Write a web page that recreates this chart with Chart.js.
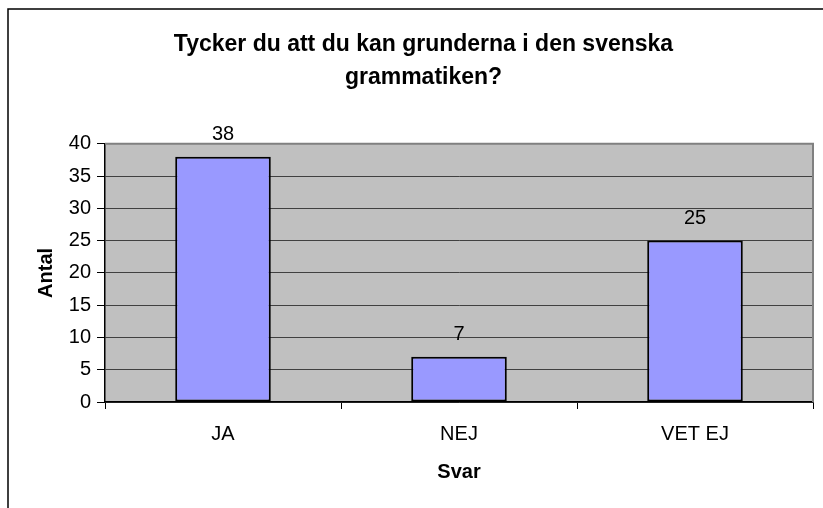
<!DOCTYPE html>
<html>
<head>
<meta charset="utf-8">
<script src="https://cdn.jsdelivr.net/npm/chart.js@4.4.1/dist/chart.umd.min.js"></script>
<style>
html,body{margin:0;padding:0;background:#fff;}
#wrap{width:823px;height:508px;position:relative;}
</style>
</head>
<body>
<div id="wrap"><canvas id="c" width="823" height="508"></canvas></div>
<script>
const categories = ['JA', 'NEJ', 'VET EJ'];
const antal = [38, 7, 25];
const yTicks = [0, 5, 10, 15, 20, 25, 30, 35, 40];
const titleLines = ['Tycker du att du kan grunderna i den svenska', 'grammatiken?'];
const xTitle = 'Svar';
const yTitle = 'Antal';

const FONT = "'Liberation Sans', Arial, sans-serif";

const framePlugin = {
  id: 'frame',
  beforeDraw(chart) {
    const ctx = chart.ctx;
    const a = chart.chartArea;
    ctx.save();
    ctx.fillStyle = '#ffffff';
    ctx.fillRect(0, 0, chart.width, chart.height);
    ctx.strokeStyle = '#000000';
    ctx.lineWidth = 1.5;
    ctx.beginPath();
    ctx.moveTo(8, chart.height);
    ctx.lineTo(8, 9);
    ctx.lineTo(chart.width, 9);
    ctx.stroke();
    ctx.fillStyle = '#c0c0c0';
    ctx.fillRect(a.left, a.top, a.right - a.left, a.bottom - a.top);
    ctx.restore();
  },
  afterDraw(chart) {
    const ctx = chart.ctx;
    const a = chart.chartArea;
    ctx.save();
    ctx.strokeStyle = '#808080';
    ctx.lineWidth = 2;
    ctx.beginPath();
    ctx.moveTo(a.left, a.top);
    ctx.lineTo(a.right, a.top);
    ctx.lineTo(a.right, a.bottom);
    ctx.stroke();
    ctx.restore();
  }
};

const valueLabels = {
  id: 'valueLabels',
  afterDatasetsDraw(chart) {
    const ctx = chart.ctx;
    const meta = chart.getDatasetMeta(0);
    ctx.save();
    ctx.font = '20px ' + FONT;
    ctx.fillStyle = '#000';
    ctx.textAlign = 'center';
    ctx.textBaseline = 'alphabetic';
    meta.data.forEach((bar, i) => {
      ctx.fillText(String(chart.data.datasets[0].data[i]), bar.x, bar.y - 17);
    });
    ctx.restore();
  }
};

new Chart(document.getElementById('c'), {
  type: 'bar',
  data: {
    labels: categories,
    datasets: [{
      data: antal,
      backgroundColor: '#9999ff',
      borderColor: '#000000',
      borderWidth: 2,
      borderSkipped: false,
      categoryPercentage: 1.0,
      barPercentage: 0.405
    }]
  },
  options: {
    responsive: false,
    animation: false,
    devicePixelRatio: 1,
    layout: { padding: { left: 34, right: 10, top: 28, bottom: 0 } },
    plugins: {
      legend: { display: false },
      tooltip: { enabled: false },
      title: {
        display: true,
        text: titleLines,
        color: '#000',
        font: { family: FONT, size: 23, weight: 'bold', lineHeight: 1.43 },
        padding: { top: 0, bottom: 50 }
      }
    },
    scales: {
      x: {
        offset: true,
        grid: {
          offset: true,
          drawOnChartArea: false,
          drawTicks: true,
          tickLength: 7,
          tickColor: '#000',
          tickWidth: 1
        },
        border: { display: true, color: '#000', width: 1.5 },
        ticks: {
          color: '#000',
          font: { family: FONT, size: 20 },
          padding: 13
        },
        title: {
          display: true,
          text: xTitle,
          color: '#000',
          font: { family: FONT, size: 20, weight: 'bold', lineHeight: 1.2 },
          padding: { top: 0, bottom: 24 }
        },
        afterFit(scale) { scale.height = 106; }
      },
      y: {
        min: 0,
        max: 40,
        afterBuildTicks(scale) { scale.ticks = yTicks.map(v => ({ value: v })); },
        grid: {
          color: '#404040',
          lineWidth: 1,
          drawTicks: true,
          tickLength: 8,
          tickColor: '#000',
          tickWidth: 1
        },
        border: { display: true, color: '#000', width: 1.5 },
        ticks: {
          color: '#000',
          font: { family: FONT, size: 20 },
          padding: 6
        },
        title: {
          display: true,
          text: yTitle,
          color: '#000',
          font: { family: FONT, size: 20, weight: 'bold', lineHeight: 1.2 },
          padding: { top: 0, bottom: 0 }
        },
        afterFit(scale) { scale.width = 71; }
      }
    }
  },
  plugins: [framePlugin, valueLabels]
});
</script>
</body>
</html>
